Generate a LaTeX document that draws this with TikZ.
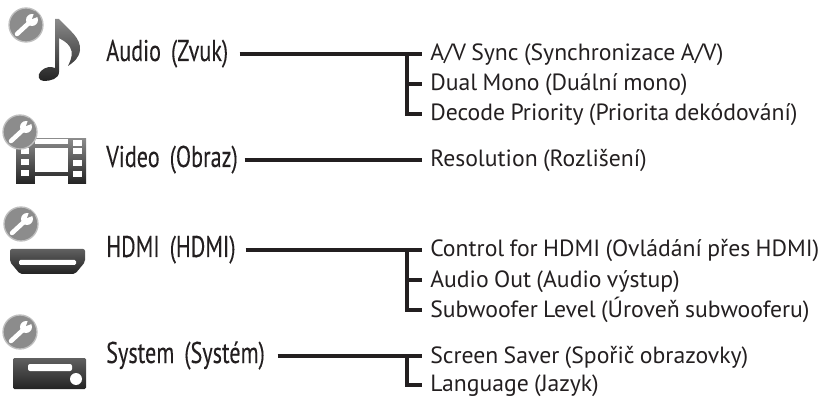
\documentclass[tikz,border=0pt]{standalone}
\usepackage{fontspec}
\setmainfont{PT Sans}
\newfontfamily\narrowfont[FakeStretch=0.74,WordSpace=0.7,FakeBold=0.15]{PT Sans}
\newfontfamily\itemfont[FakeStretch=1.01,WordSpace=0.85]{PT Sans}
\usetikzlibrary{positioning}
\definecolor{ink}{HTML}{231F20}
\definecolor{badgegrey}{HTML}{8C8C8C}
\definecolor{icontop}{HTML}{8A8A8A}
\definecolor{iconmid}{HTML}{606060}
\definecolor{iconlow}{HTML}{232323}

\begin{document}
\begin{tikzpicture}[
  x=0.75pt, y=-0.75pt,
  node distance=6.6pt,
  grouplabel/.style={inner sep=0pt, anchor=west, text width=#1*0.75pt, align=left,
              text height=11pt, text depth=0.5pt, text=ink, font=\narrowfont\fontsize{22.5}{24}\selectfont},
  item/.style={inner sep=0pt, inner xsep=6pt, anchor=west, align=left,
              text height=13pt, text depth=2.5pt, text=ink, font=\itemfont\fontsize{17.6}{19}\selectfont},
  nextitem/.style={below=of #1.south west, anchor=north west},
  link/.style={draw=ink, line width=3pt},
  iconfill/.style={top color=icontop, bottom color=iconlow, draw=none},
  darkfill/.style={top color=iconmid, bottom color=iconlow, draw=none},
  hole/.style={fill=white, draw=none},
  badge/.pic={
    \fill[badgegrey, draw=black!25, line width=1pt] (0,0) circle (17);
    \draw[white, line width=3.4pt, line cap=round] (-9,9) -- (4,-3);
    \fill[white] (6,-5) circle (6);
    \fill[badgegrey] (6,-6) -- (9,-14) -- (14,-9) -- cycle;
  }]
\useasboundingbox (0,0) rectangle (818,399);

% icons
\shade[iconfill] (55,19) -- (59,19) .. controls (70,31) and (81,38) .. (80,50)
  .. controls (79,58) and (74,62) .. (68,66) .. controls (72,58) and (73,52) .. (70,47)
  .. controls (67,42) and (62,40) .. (59,38) -- (59,72) .. controls (59,79) and (50,81) .. (44,81)
  .. controls (38,81) and (37,75) .. (41,71) .. controls (45,67) and (51,66) .. (55,68) -- cycle;
\pic at (26,25) {badge};

\shade[iconfill] (16,139) rectangle (86,184);
\fill[hole] (35,148) rectangle (68,172);
\foreach \ypos in {148,159,170} \fill[hole] (21,\ypos) rectangle (29,\ypos+6);
\foreach \ypos in {140,148,160,171} \fill[hole] (73,\ypos) rectangle (82,\ypos+6);
\fill[white] (35,139) rectangle (68,144);
\fill[white] (35,176) rectangle (68,184);
\pic at (20,132) {badge};

\shade[darkfill, rounded corners=1.5pt] (10,249) -- (85,249) -- (85,262) -- (75,274) -- (20,274) -- (10,262) -- cycle;
\fill[hole, rounded corners=1pt] (19,260) rectangle (76,265);
\pic at (21,224) {badge};

\shade[darkfill, rounded corners=1pt] (13,358) rectangle (86,389);
\fill[hole, rounded corners=1.5pt] (28,364) rectangle (72,371);
\fill[hole] (76,379) circle (6);
\pic at (20,332) {badge};

% menu groups
\node[grouplabel=133] (audio) at (106,54) {Audio (Zvuk)};
\node[grouplabel=138] (video) at (106,160) {Video (Obraz)};
\node[grouplabel=139] (hdmi) at (106,250) {HDMI (HDMI)};
\node[grouplabel=171] (system) at (106,356) {System (Systém)};

% menu items
\node[item] (avsync) at (422,54) {A/V Sync (Synchronizace A/V)};
\node[item, nextitem=avsync] (dual) {Dual Mono (Duální mono)};
\node[item, nextitem=dual] (decode) {Decode Priority (Priorita dekódování)};
\node[item] (resolution) at (422,160) {Resolution (Rozlišení)};
\node[item] (control) at (422,250) {Control for HDMI (Ovládání přes HDMI)};
\node[item, nextitem=control] (audioout) {Audio Out (Audio výstup)};
\node[item, nextitem=audioout] (subwoofer) {Subwoofer Level (Úroveň subwooferu)};
\node[item] (saver) at (422,356) {Screen Saver (Spořič obrazovky)};
\node[item, nextitem=saver, yshift=1pt] (language) {Language (Jazyk)};

% connectors
\draw[link] (audio.east) -- (avsync.west);
\draw[link] (video.east) -- (resolution.west);
\draw[link] (hdmi.east) -- (control.west);
\draw[link] (system.east) -- (saver.west);
\coordinate[left=11.25pt of avsync.west] (audiojoin);
\coordinate[left=11.25pt of control.west] (hdmijoin);
\coordinate[left=11.25pt of saver.west] (systemjoin);
\draw[link] (audiojoin) |- (decode.west);
\draw[link] (audiojoin |- dual.west) -- (dual.west);
\draw[link] (hdmijoin) |- (subwoofer.west);
\draw[link] (hdmijoin |- audioout.west) -- (audioout.west);
\draw[link] (systemjoin) |- (language.west);
\end{tikzpicture}
\end{document}
